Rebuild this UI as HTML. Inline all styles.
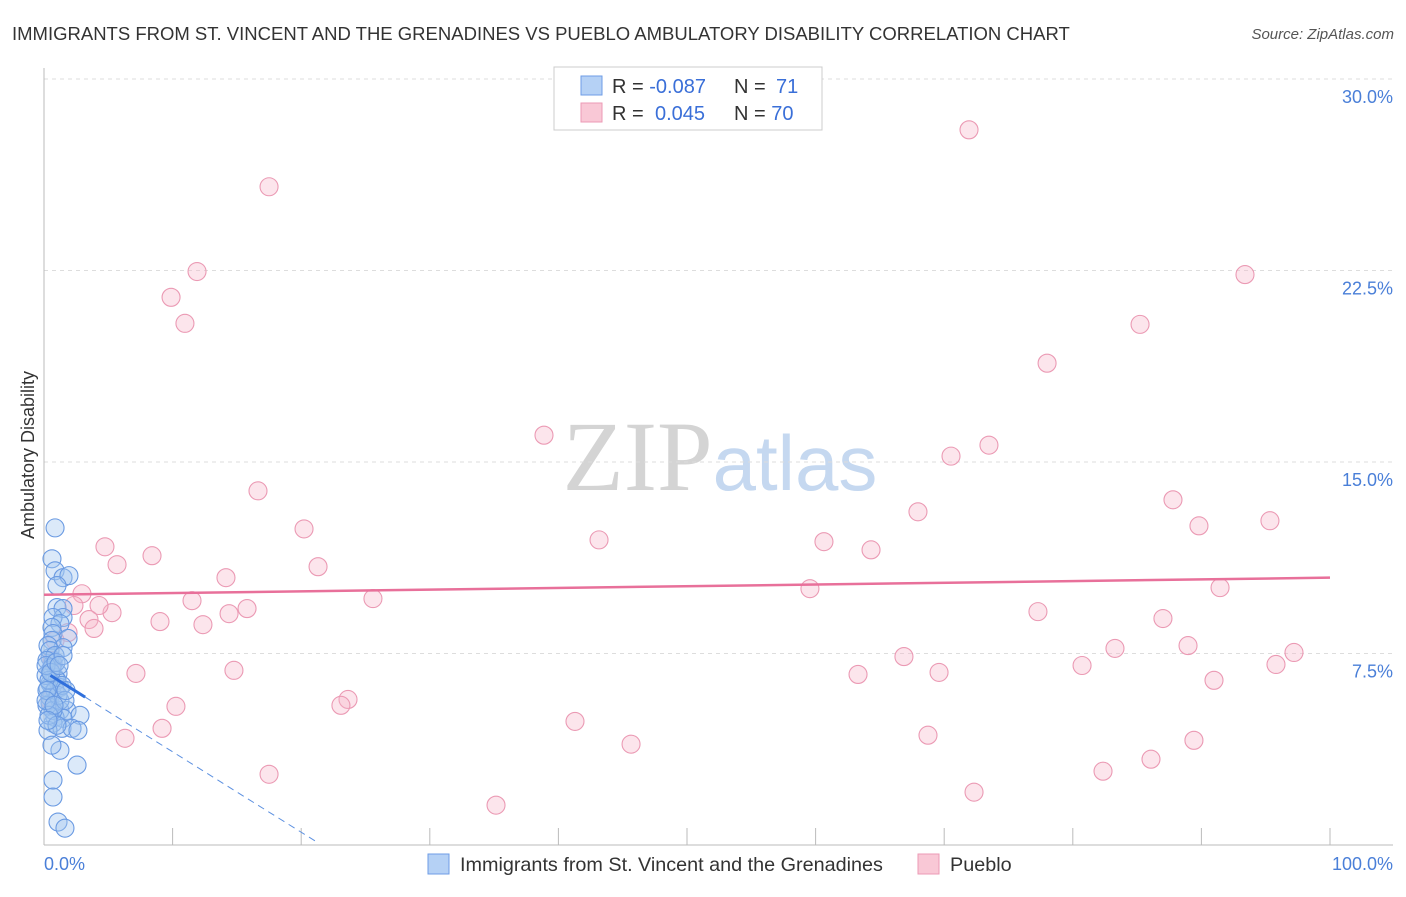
<!DOCTYPE html>
<html><head><meta charset="utf-8"><style>
body{margin:0;background:#fff;font-family:"Liberation Sans",sans-serif}
svg text{font-family:"Liberation Sans",sans-serif}
</style></head><body>
<svg id="chart" width="1406" height="892" viewBox="0 0 1406 892" xmlns="http://www.w3.org/2000/svg">
<text x="12" y="40" font-size="18.5" fill="#333">IMMIGRANTS FROM ST. VINCENT AND THE GRENADINES VS PUEBLO AMBULATORY DISABILITY CORRELATION CHART</text>
<text x="1394" y="39" font-size="15" fill="#555" font-style="italic" text-anchor="end">Source: ZipAtlas.com</text>
<text x="720" y="490" font-size="100" text-anchor="middle"><tspan fill="#d4d4d4" font-family="Liberation Serif">ZIP</tspan><tspan fill="#c5d8f0" font-size="78">atlas</tspan></text>
<text transform="translate(34,455) rotate(-90)" font-size="18" fill="#333" text-anchor="middle">Ambulatory Disability</text>
<g id="grid"></g>
<g id="axes"></g>
<g id="points"></g>
<g id="trends"></g>
<g>
<rect x="554" y="67" width="268" height="63" fill="#fff" stroke="#ccc"/>
<rect x="581" y="76" width="21" height="19" fill="#b5d1f5" stroke="#6e9ce6"/>
<rect x="581" y="103" width="21" height="19" fill="#f9c8d6" stroke="#ec9ab5"/>
<text x="612" y="93" font-size="20" fill="#333">R = <tspan fill="#3a6fd8">-0.087</tspan><tspan x="734">N = </tspan><tspan fill="#3a6fd8" x="776">71</tspan></text>
<text x="612" y="120" font-size="20" fill="#333">R = <tspan fill="#3a6fd8" x="655">0.045</tspan><tspan x="734">N = </tspan><tspan fill="#3a6fd8">70</tspan></text>
</g>
<g>
<rect x="428" y="854" width="21" height="20" fill="#b5d1f5" stroke="#6e9ce6"/>
<text x="460" y="871" font-size="19.8" fill="#333">Immigrants from St. Vincent and the Grenadines</text>
<rect x="918" y="854" width="21" height="20" fill="#f9c8d6" stroke="#ec9ab5"/>
<text x="950" y="871" font-size="19.8" fill="#333">Pueblo</text>
</g>
</svg>
<script>
const yTicks=[7.5,15,22.5,30];
const yTickLabels=["7.5%","15.0%","22.5%","30.0%"];
const xTicks=[0,10,20,30,40,50,60,70,80,90,100];
const xLabels=["0.0%","100.0%"];
const pinkX=[71.93,17.50,11.90,9.88,10.96,93.39,85.23,78.00,38.88,73.48,70.53,16.64,87.79,67.96,95.33,20.22,89.81,43.16,60.65,4.74,64.31,8.40,5.68,21.31,14.15,91.45,59.56,2.95,11.51,2.33,5.29,15.79,4.28,14.39,25.58,77.29,9.02,3.50,12.36,87.01,3.89,1.87,83.28,88.96,66.87,97.20,80.72,95.80,7.15,14.77,63.30,69.60,90.98,23.64,23.09,10.26,41.29,9.18,6.30,68.74,89.42,45.65,86.08,82.35,17.50,72.32,35.15,0.62,0.47,0.86];
const pinkY=[28.01,25.78,22.46,21.45,20.43,22.34,20.39,18.87,16.05,15.66,15.23,13.87,13.52,13.05,12.70,12.38,12.50,11.95,11.88,11.68,11.56,11.33,10.98,10.90,10.47,10.08,10.04,9.84,9.57,9.38,9.10,9.26,9.38,9.06,9.65,9.14,8.75,8.83,8.63,8.87,8.48,8.32,7.70,7.81,7.38,7.54,7.03,7.07,6.72,6.84,6.68,6.76,6.45,5.70,5.47,5.43,4.84,4.57,4.18,4.30,4.10,3.95,3.36,2.89,2.77,2.07,1.56,7.23,5.66,8.01];
const blueX=[0.86,0.62,0.86,1.48,1.94,1.01,1.01,1.48,1.48,0.70,1.24,0.62,0.70,1.87,0.62,1.48,0.47,0.70,0.47,0.86,1.09,0.47,1.24,0.62,0.47,1.24,1.79,2.80,0.86,1.48,0.70,1.40,2.18,2.64,0.31,1.24,2.57,0.70,0.70,1.09,1.63,0.31,0.47,0.86,0.23,0.62,1.01,0.31,0.86,0.47,1.24,0.23,0.70,1.09,0.16,0.39,1.40,0.16,0.54,0.93,0.23,1.63,0.39,1.01,1.48,0.16,0.78,1.17,0.31,1.71,0.62];
const blueY=[12.42,11.21,10.74,10.47,10.55,10.16,9.30,9.26,8.91,8.91,8.67,8.52,8.28,8.09,8.01,7.73,7.34,7.11,6.84,6.56,6.72,6.33,6.17,5.94,5.55,5.27,5.27,5.08,5.00,4.96,4.77,4.57,4.57,4.49,4.49,3.71,3.13,2.54,1.88,0.90,0.66,7.81,7.62,7.42,7.23,6.95,6.45,6.13,6.05,5.78,5.66,5.47,5.27,5.86,6.64,6.45,6.25,7.03,6.76,7.15,6.05,5.66,5.08,4.69,7.42,5.66,5.47,7.03,4.88,6.05,3.91];
const blueTrend=[6.8,-0.315];
const pinkTrend=[9.8,0.0067];
const NS="http://www.w3.org/2000/svg";
const X0=44,X1=1330,Y0=845,Y30=79;
const xs=v=>X0+(X1-X0)*v/100;
const ys=v=>Y0-(Y0-Y30)*v/30;
function mk(tag,attrs,parent){const e=document.createElementNS(NS,tag);for(const k in attrs)e.setAttribute(k,attrs[k]);parent.appendChild(e);return e;}
const grid=document.getElementById('grid'),axes=document.getElementById('axes');
yTicks.forEach((t,i)=>{
 const l=mk('line',{x1:X0,x2:1393,y1:ys(t),y2:ys(t),stroke:'#ddd','stroke-dasharray':'4,4'},grid);
 
 
 const tx=mk('text',{x:1393,y:ys(t)+24,'font-size':18,fill:'#4a7fd8','text-anchor':'end'},axes);
 tx.textContent=yTickLabels[i];
 
 
});
const ya=mk('line',{x1:X0,x2:X0,y1:68,y2:Y0,stroke:'#bbb'},axes);


const xa=mk('line',{x1:X0,x2:1393,y1:Y0,y2:Y0,stroke:'#bbb'},axes);


xTicks.forEach(t=>{
 const l=mk('line',{x1:xs(t),x2:xs(t),y1:828,y2:Y0,stroke:'#bbb'},axes);
 
 
});
const xl0=mk('text',{x:X0,y:870,'font-size':18,fill:'#4a7fd8'},axes);xl0.textContent=xLabels[0];


const xl1=mk('text',{x:1393,y:870,'font-size':18,fill:'#4a7fd8','text-anchor':'end'},axes);xl1.textContent=xLabels[1];


const pts=document.getElementById('points');
pinkX.forEach((v,i)=>{
 const c=mk('circle',{cx:xs(v),cy:ys(pinkY[i]),r:9,fill:'rgba(246,180,200,0.35)',stroke:'#eb9ab4','stroke-width':1.1},pts);
 
 
});
blueX.forEach((v,i)=>{
 const c=mk('circle',{cx:xs(v),cy:ys(blueY[i]),r:9,fill:'rgba(160,196,240,0.38)',stroke:'#6a9ae2','stroke-width':1.1},pts);
 
 
});
const tr=document.getElementById('trends');
const bt=v=>blueTrend[0]+blueTrend[1]*v;
const b1=mk('line',{x1:xs(0.5),y1:ys(bt(0.5)),x2:xs(3.2),y2:ys(bt(3.2)),stroke:'#2f6fdc','stroke-width':3},tr);


const b2=mk('line',{x1:xs(3.2),y1:ys(bt(3.2)),x2:xs(21.3),y2:ys(bt(21.3)),stroke:'#5c90e0','stroke-width':1,'stroke-dasharray':'7,5'},tr);


const pt=v=>pinkTrend[0]+pinkTrend[1]*v;
const p1=mk('line',{x1:xs(0),y1:ys(pt(0)),x2:xs(100),y2:ys(pt(100)),stroke:'#e8709a','stroke-width':2.5},tr);


</script>
</body></html>
